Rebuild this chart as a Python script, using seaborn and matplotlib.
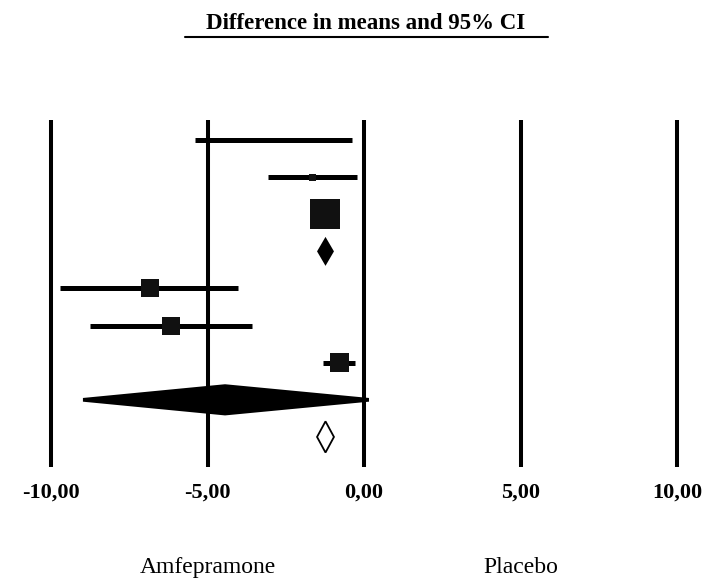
import numpy as np
import matplotlib
matplotlib.use("Agg")
import matplotlib.pyplot as plt
import matplotlib.transforms as mtransforms
from matplotlib.lines import Line2D
import seaborn as sns

# Dữ liệu (mỗi hàng một nghiên cứu / tổng hợp)
row_kind = ["study", "study", "study", "summary", "study", "study", "study", "summary", "open"]
est = [-2.90, -1.66, -1.25, -1.23, -6.84, -6.17, -0.77, -4.44, -1.23]
lower = [-5.40, -3.07, -1.60, -1.50, -9.71, -8.75, -1.31, -8.98, -1.50]
upper = [-0.38, -0.22, -0.90, -0.96, -4.03, -3.58, -0.29, 0.16, -0.96]
weights = [0.0, 5.4, 100.0, 0.0, 36.0, 36.0, 40.1, 0.0, 0.0]

tick_values = [-10, -5, 0, 5, 10]
tick_labels = ["-10,00", "-5,00", "0,00", "5,00", "10,00"]
side_labels = ["Amfepramone", "Placebo"]
side_x = [-5, 5]
title = "Difference in means and 95% CI"

sns.set_theme(style="white")
plt.rcParams["font.family"] = ["Liberation Serif", "DejaVu Serif"]

fig = plt.figure(figsize=(7.04, 5.82), dpi=100)
ax = fig.add_axes([35.35 / 704, 1 - 467 / 582, 657.3 / 704, 347 / 582])

rows = np.arange(len(est))

# đường dọc tại các mốc
for t in tick_values:
    ax.axvline(t, color="black", lw=2.9, zorder=1)

# khoảng tin cậy
for i, k in enumerate(row_kind):
    if k == "study":
        ax.plot([lower[i], upper[i]], [rows[i], rows[i]], color="black", lw=3.6,
                solid_capstyle="butt", zorder=2)

# hình vuông theo trọng số
study_idx = [i for i, k in enumerate(row_kind) if k == "study" and weights[i] > 0]
px_to_pt = 72 / 100
sizes = [(3 * np.sqrt(weights[i]) * px_to_pt) ** 2 for i in study_idx]
sns.scatterplot(x=[est[i] for i in study_idx], y=[rows[i] for i in study_idx],
                marker="s", s=sizes, color="#111111", linewidth=0, ax=ax, zorder=3)

# hình thoi tổng hợp
for i, k in enumerate(row_kind):
    if k in ("summary", "open"):
        h = 0.39 if i == 3 else 0.42
        tip = 0.05 if (upper[i] - lower[i]) > 3 else 0.0
        xs = [lower[i], est[i], upper[i], upper[i], est[i], lower[i]]
        ys = [rows[i] - tip, rows[i] - h, rows[i] - tip,
              rows[i] + tip, rows[i] + h, rows[i] + tip]
        if k == "summary":
            ax.fill(xs, ys, color="black", lw=0, zorder=3)
        else:
            ax.fill(xs, ys, facecolor="white", edgecolor="black", lw=1.3, zorder=3)

ax.set_xlim(-10.5, 10.5)
ax.set_ylim(8.81, -0.54)
ax.set_yticks([])
ax.set_xticks(tick_values)
ax.set_xticklabels(tick_labels, fontweight="bold", fontsize=16)
ax.tick_params(axis="x", length=0, pad=11, colors="black")
for s in ax.spines.values():
    s.set_visible(False)
ax.set_xlabel("")
ax.set_ylabel("")

trans = mtransforms.blended_transform_factory(ax.transData, fig.transFigure)
for x, lab in zip(side_x, side_labels):
    ax.text(x, 1 - 573 / 582, lab, transform=trans, ha="center", va="baseline",
            fontsize=17, color="black")

fig.text(366 / 704, 1 - 29 / 582, title, ha="center", va="baseline",
         fontsize=16.5, fontweight="bold", color="black")
fig.add_artist(Line2D([185 / 704, 548 / 704], [1 - 37 / 582, 1 - 37 / 582],
                      transform=fig.transFigure, color="black", lw=1.5))

fig.savefig("out.png", dpi=100)
